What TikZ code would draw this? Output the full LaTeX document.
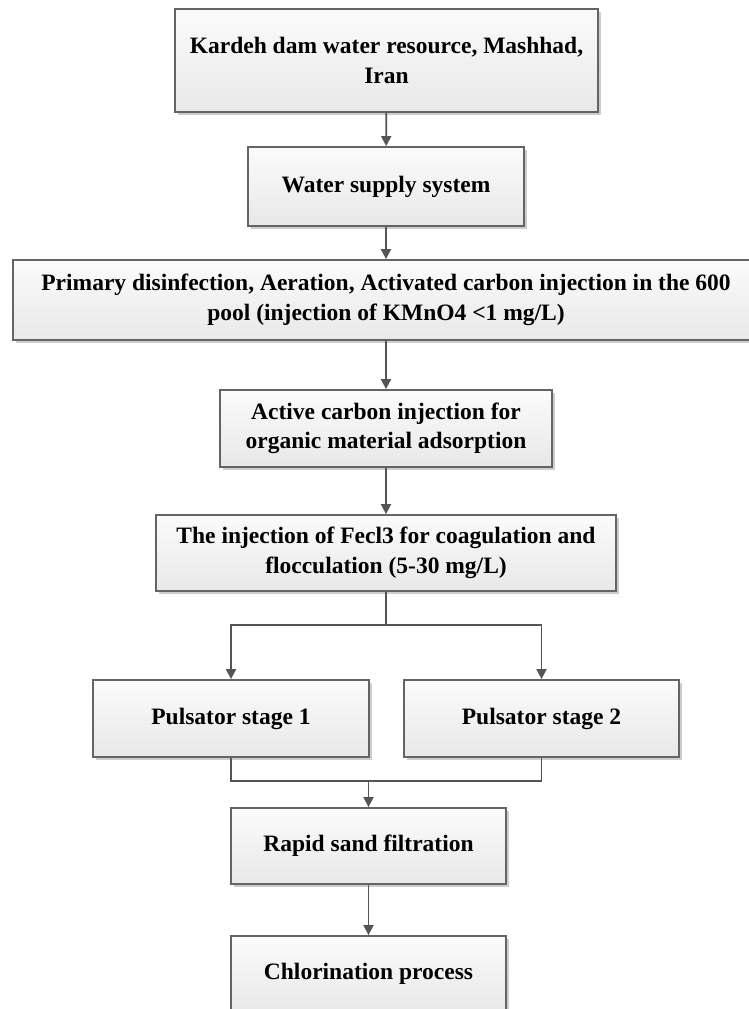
\documentclass[tikz,border=0pt]{standalone}
\usepackage{fontspec}
\setmainfont{Liberation Serif}
\usetikzlibrary{arrows.meta,shadows}
\definecolor{edgec}{RGB}{100,100,100}
\definecolor{arrc}{RGB}{85,85,85}
\definecolor{ftop}{RGB}{251,251,251}
\definecolor{fbot}{RGB}{232,232,232}
\definecolor{shd}{RGB}{205,205,205}
\tikzset{
  box/.style={draw=edgec, line width=1.8pt, top color=ftop, bottom color=fbot,
    drop shadow={shadow xshift=2.5pt, shadow yshift=-2.5pt, fill=shd, opacity=1},
    font=\bfseries\fontsize{23.5}{29.5}\selectfont, align=center, inner sep=0pt},
  conn/.style={draw=arrc, line width=1.8pt},
  arr/.style={conn, -{Triangle[length=10pt,width=10pt]}}
}
\begin{document}
\begin{tikzpicture}[x=1pt,y=-1pt]
\useasboundingbox[fill=white] (0,0) rectangle (749,1009);
\node[box, minimum width=423pt, minimum height=103pt] (b1) at (386.5,60.5)
  {Kardeh dam water resource, Mashhad,\\ Iran};
\node[box, minimum width=276pt, minimum height=79pt] (b2) at (386,186.5)
  {Water supply system};
\node[box, minimum width=746pt, minimum height=80pt] (b3) at (386,300)
  {Primary disinfection, Aeration, Activated carbon injection in the 600\\ pool (injection of KMnO4 <1 mg/L)};
\node[box, minimum width=332pt, minimum height=77pt] (b4) at (386,428.5)
  {Active carbon injection for\\ organic material adsorption};
\node[box, minimum width=460pt, minimum height=76pt] (b5) at (386,553)
  {The injection of Fecl3 for coagulation and\\ flocculation (5-30 mg/L)};
\node[box, minimum width=276pt, minimum height=77pt] (p1) at (231,718.5)
  {Pulsator stage 1};
\node[box, minimum width=275pt, minimum height=77pt] (p2) at (541.5,718.5)
  {Pulsator stage 2};
\node[box, minimum width=275pt, minimum height=76pt] (r) at (368.5,846)
  {Rapid sand filtration};
\node[box, minimum width=275pt, minimum height=76pt] (c) at (368.5,974)
  {Chlorination process};
\coordinate (j1) at (386,625);
\coordinate (j2) at (368.5,781);
\draw[arr] (b1) -- (b2);
\draw[arr] (b2) -- (b3);
\draw[arr] (b3) -- (b4);
\draw[arr] (b4) -- (b5);
\draw[conn] (b5) -- (j1);
\draw[arr] (j1) -| (p1);
\draw[arr] (j1) -| (p2);
\draw[conn] (p1.south) |- (j2) -| (p2.south);
\draw[arr] (j2) -- (r);
\draw[arr] (r) -- (c);
\end{tikzpicture}
\end{document}
